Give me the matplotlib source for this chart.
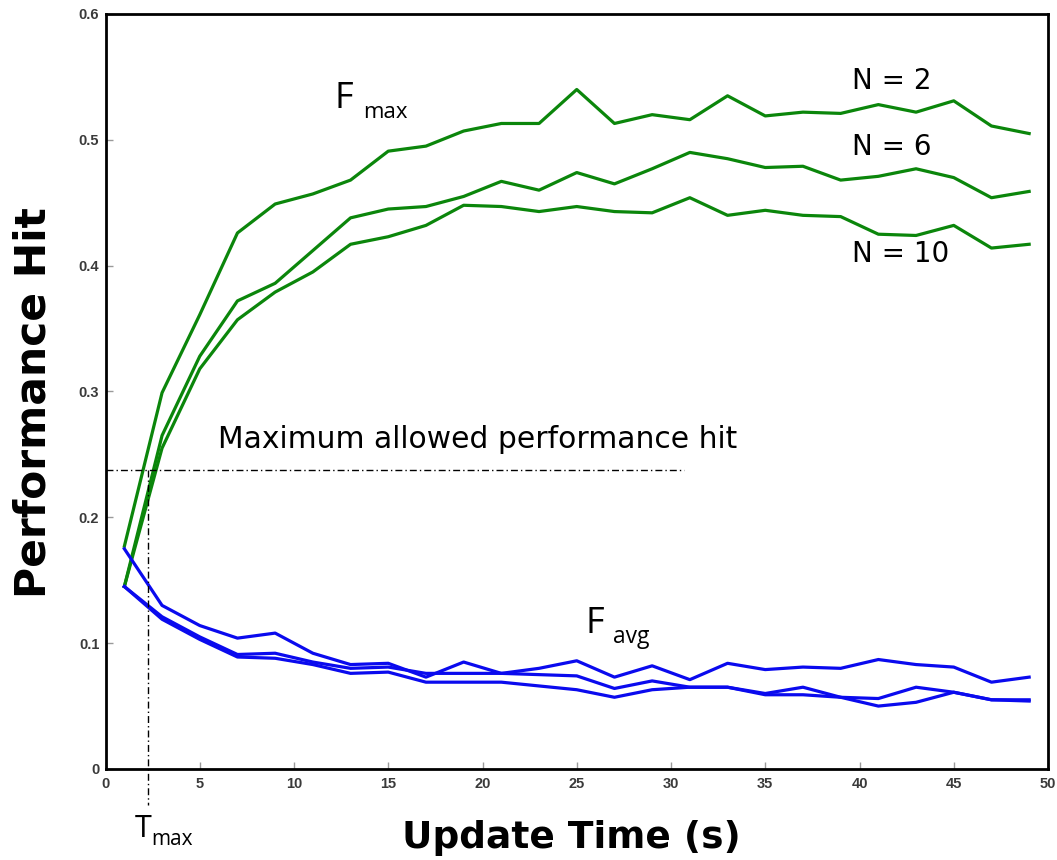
import matplotlib
matplotlib.use("Agg")
import matplotlib.pyplot as plt
from matplotlib.ticker import FixedLocator, FixedFormatter

# ---------------- data ----------------
update_time = [1, 3, 5, 7, 9, 11, 13, 15, 17, 19, 21, 23, 25,
               27, 29, 31, 33, 35, 37, 39, 41, 43, 45, 47, 49]

fmax_n2 = [0.177, 0.299, 0.361, 0.426, 0.449, 0.457, 0.468, 0.491, 0.495, 0.507,
           0.513, 0.513, 0.540, 0.513, 0.520, 0.516, 0.535, 0.519, 0.522, 0.521,
           0.528, 0.522, 0.531, 0.511, 0.505]
fmax_n6 = [0.145, 0.265, 0.328, 0.372, 0.386, 0.412, 0.438, 0.445, 0.447, 0.455,
           0.467, 0.460, 0.474, 0.465, 0.477, 0.490, 0.485, 0.478, 0.479, 0.468,
           0.471, 0.477, 0.470, 0.454, 0.459]
fmax_n10 = [0.145, 0.255, 0.318, 0.357, 0.379, 0.395, 0.417, 0.423, 0.432, 0.448,
            0.447, 0.443, 0.447, 0.443, 0.442, 0.454, 0.440, 0.444, 0.440, 0.439,
            0.425, 0.424, 0.432, 0.414, 0.417]

favg_a = [0.175, 0.130, 0.114, 0.104, 0.108, 0.092, 0.083, 0.084, 0.073, 0.085,
          0.076, 0.080, 0.086, 0.073, 0.082, 0.071, 0.084, 0.079, 0.081, 0.080,
          0.087, 0.083, 0.081, 0.069, 0.073]
favg_b = [0.145, 0.121, 0.105, 0.091, 0.092, 0.085, 0.080, 0.081, 0.076, 0.076,
          0.076, 0.075, 0.074, 0.064, 0.070, 0.065, 0.065, 0.060, 0.065, 0.057,
          0.056, 0.065, 0.061, 0.055, 0.055]
favg_c = [0.145, 0.119, 0.103, 0.089, 0.088, 0.083, 0.076, 0.077, 0.069, 0.069,
          0.069, 0.066, 0.063, 0.057, 0.063, 0.065, 0.065, 0.059, 0.059, 0.057,
          0.050, 0.053, 0.061, 0.055, 0.054]

max_allowed_hit = 0.238
t_max = 2.25
threshold_x_end = 30.7

x_ticks = [0, 5, 10, 15, 20, 25, 30, 35, 40, 45, 50]
x_tick_labels = ["0", "5", "10", "15", "20", "25", "30", "35", "40", "45", "50"]
y_ticks = [0, 0.1, 0.2, 0.3, 0.4, 0.5, 0.6]
y_tick_labels = ["0", "0.1", "0.2", "0.3", "0.4", "0.5", "0.6"]

# ---------------- figure ----------------
W, H = 1057, 860
fig = plt.figure(figsize=(W / 100, H / 100), dpi=100)
ax = fig.add_axes([105.5 / W, (H - 769) / H, 942.5 / W, 755 / H])

green = "#0b860b"
blue = "#0a0aee"
for s in (fmax_n2, fmax_n6, fmax_n10):
    ax.plot(update_time, s, color=green, lw=2.3, solid_joinstyle="round")
for s in (favg_a, favg_b, favg_c):
    ax.plot(update_time, s, color=blue, lw=2.3, solid_joinstyle="round")

dd = (0, (5, 2.2, 1, 2.2))
ax.plot([0, threshold_x_end], [max_allowed_hit, max_allowed_hit], color="black",
        lw=1.0, linestyle=dd, clip_on=False)
ax.plot([t_max, t_max], [max_allowed_hit, -0.029], color="black",
        lw=1.0, linestyle=dd, clip_on=False)

ax.set_xlim(0, 50)
ax.set_ylim(0, 0.6)

ax.xaxis.set_major_locator(FixedLocator(x_ticks))
ax.xaxis.set_major_formatter(FixedFormatter(x_tick_labels))
ax.yaxis.set_major_locator(FixedLocator(y_ticks))
ax.yaxis.set_major_formatter(FixedFormatter(y_tick_labels))

ax.tick_params(direction="in", length=5, width=1, color="#9a9a9a",
               labelsize=10.5, labelcolor="#3a3a3a")
ax.tick_params(axis="x", pad=6)
ax.tick_params(axis="y", pad=4.5)
for lab in ax.get_xticklabels() + ax.get_yticklabels():
    lab.set_fontfamily("Liberation Sans")
    lab.set_fontweight("bold")

for sp in ax.spines.values():
    sp.set_linewidth(2.0)
    sp.set_color("black")

# ---------------- annotations ----------------
afont = "Open Sans"
bfont = "DejaVu Sans"
ax.text(12.17, 0.5254, "F", fontsize=26, family=afont, ha="left", va="baseline")
ax.text(13.65, 0.5175, "max", fontsize=16, family=afont, ha="left", va="baseline")

ax.text(25.48, 0.108, "F", fontsize=26, family=afont, ha="left", va="baseline")
ax.text(26.93, 0.0999, "avg", fontsize=16.5, family=afont, ha="left", va="baseline")

ax.text(5.96, 0.255, "Maximum allowed performance hit", fontsize=21.4, family=bfont,
        ha="left", va="baseline")

ax.text(39.6, 0.5405, "N = 2", fontsize=20, family=bfont, ha="left", va="baseline")
ax.text(39.6, 0.488, "N = 6", fontsize=20, family=bfont, ha="left", va="baseline")
ax.text(39.6, 0.4033, "N = 10", fontsize=20, family=bfont, ha="left", va="baseline")

ax.text(1.56, -0.0538, "T", fontsize=22, family=afont, ha="left", va="baseline",
        clip_on=False)
ax.text(2.45, -0.0604, "max", fontsize=15, family=afont, ha="left", va="baseline",
        clip_on=False)

fig.text(571 / W, (H - 848) / H, "Update Time (s)", fontsize=27, fontweight="bold",
         family="DejaVu Sans", ha="center", va="baseline")
fig.text(34 / W, (H - 403) / H, "Performance Hit", fontsize=30.5, fontweight="bold",
         family="DejaVu Sans", ha="center", va="center", rotation=90)

fig.savefig("out.png", dpi=100)
